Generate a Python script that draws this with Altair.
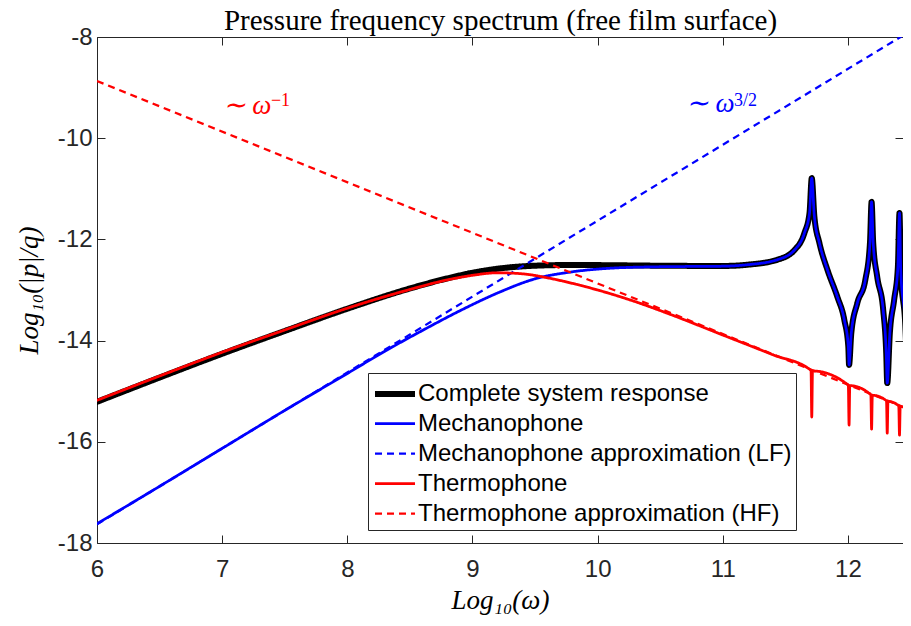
import altair as alt
import pandas as pd

# ---------------- data ----------------
SERIES = [
    "Complete system response",
    "Mechanophone",
    "Mechanophone approximation (LF)",
    "Thermophone",
    "Thermophone approximation (HF)",
]
COLORS = ["#000000", "#0000ff", "#0000ff", "#ff0000", "#ff0000"]
DASHES = [[1, 0], [1, 0], [7, 5], [1, 0], [7, 5]]
WIDTHS = [6, 2.75, 2.25, 2.75, 2.25]
TITLE = "Pressure frequency spectrum (free film surface)"

# Mechanophone (blue solid)
blue_x = [6.0, 6.5, 7.0, 7.5, 8.0, 8.3, 8.6, 8.9, 9.2, 9.5, 9.8, 10.1, 10.5, 11.0,
          11.2, 11.438, 11.573, 11.653, 11.693, 11.711, 11.732, 11.772, 11.836, 11.916,
          11.971, 12.003, 12.009, 12.027, 12.075, 12.139, 12.176, 12.189, 12.202, 12.234,
          12.282, 12.306, 12.314, 12.335, 12.369, 12.399, 12.412, 12.422, 12.459, 12.48]
blue_y = [-17.62, -16.88, -16.13, -15.38, -14.65, -14.21, -13.80, -13.41, -13.06, -12.78,
          -12.64, -12.57, -12.54, -12.53,
          -12.50, -12.40, -12.21, -11.87, -11.48, -10.79, -11.55, -12.07, -12.60, -13.14,
          -13.59, -14.12, -14.48, -13.85, -13.26, -12.80, -12.07, -11.26, -12.07, -12.74,
          -13.40, -14.25, -14.84, -13.85, -13.20, -12.55, -11.48, -12.60, -13.73, -15.11]

# Complete system response (black): low-frequency part, then identical to blue
black_lo_x = [6.0, 6.5, 7.0, 7.5, 8.0, 8.5, 8.8, 9.0, 9.2, 9.5, 9.8, 10.1, 10.5, 11.0]
black_lo_y = [-15.21, -14.73, -14.26, -13.81, -13.37, -12.97, -12.77, -12.66, -12.58,
              -12.52, -12.505, -12.51, -12.52, -12.525]
black_x = black_lo_x + blue_x[14:]
black_y = black_lo_y + blue_y[14:]

# Thermophone (red solid), with the narrow dips at the resonances
red_x = [6.0, 6.5, 7.0, 7.5, 8.0, 8.5, 8.8, 9.0, 9.2, 9.4, 9.6, 9.8, 10.0, 10.3, 10.6,
         11.0, 11.4, 11.705, 11.711, 11.717, 12.003, 12.009, 12.015, 12.183, 12.189,
         12.195, 12.308, 12.314, 12.320, 12.406, 12.412, 12.418, 12.48]
red_y = [-15.18, -14.70, -14.23, -13.79, -13.36, -12.99, -12.80, -12.71, -12.66, -12.68,
         -12.76, -12.87, -13.00, -13.23, -13.50, -13.89, -14.28, -14.59, -15.51, -14.60,
         -14.88, -15.67, -14.89, -15.07, -15.75, -15.08, -15.19, -15.83, -15.20, -15.29,
         -15.87, -15.30, -15.37]

# Asymptotic approximations (straight lines in log-log)
mech_x = [6.0, 12.48]
mech_y = [-17.63, -7.91]
therm_x = [6.0, 12.48]
therm_y = [-8.87, -15.35]

# Annotations
ann_text = ["\u223c \u03c9", "\u223c \u03c9"]
ann_x = [7.003, 10.705]
ann_y = [-9.52, -9.48]
ann_color = ["#ff0000", "#0000ff"]
sup_text = ["\u22121", "3/2"]
sup_x = [7.39, 11.09]
sup_y = [-9.36, -9.36]

X_TICKS = [6, 7, 8, 9, 10, 11, 12]
Y_TICKS = [-18, -16, -14, -12, -10, -8]

# ---------------- build table ----------------
rows = []
for name, xs_, ys_ in [
    (SERIES[0], black_x, black_y),
    (SERIES[1], blue_x, blue_y),
    (SERIES[2], mech_x, mech_y),
    (SERIES[3], red_x, red_y),
    (SERIES[4], therm_x, therm_y),
]:
    for i, (a, b) in enumerate(zip(xs_, ys_)):
        rows.append({"series": name, "x": a, "y": b, "i": i})
df = pd.DataFrame(rows)

ann_df = pd.DataFrame({"t": ann_text, "x": ann_x, "y": ann_y, "c": ann_color})
sup_df = pd.DataFrame({"t": sup_text, "x": sup_x, "y": sup_y, "c": ann_color})

xscale = alt.Scale(domain=[6, 12.44], nice=False, zero=False)
yscale = alt.Scale(domain=[-18, -8], nice=False, zero=False)

AX = dict(domainColor="#262626", tickColor="#262626", domainWidth=1, tickWidth=1,
          grid=False, tickSize={"expr": "-8"}, minExtent=0)

x_bottom = alt.Axis(orient="bottom", values=X_TICKS, labelPadding=22, labelFlush=False,
                    labelFont="Liberation Sans", labelFontSize=24, labelColor="#262626",
                    title="Log\u2081\u2080(\u03c9)", titleFont="Liberation Serif",
                    titleFontStyle="italic", titleFontWeight="normal", titleFontSize=27,
                    titleColor="black", titlePadding=6, **AX)
y_left = alt.Axis(orient="left", values=Y_TICKS, labelPadding=13, labelFlush=False,
                  labelExpr="'' + datum.value",
                  labelFont="Liberation Sans", labelFontSize=24, labelColor="#262626",
                  title="Log\u2081\u2080(|p|/q)", titleFont="Liberation Serif",
                  titleFontStyle="italic", titleFontWeight="normal", titleFontSize=27,
                  titleColor="black", titlePadding=14, **AX)
# the top axis carries the chart title
x_top = alt.Axis(orient="top", values=X_TICKS, labels=False, title=TITLE,
                 titleFont="Liberation Serif", titleFontSize=29, titleFontWeight="normal",
                 titleColor="black", titleBaseline="alphabetic", titlePadding=7, **AX)
y_right = alt.Axis(orient="right", values=Y_TICKS, labels=False, title=None, **AX)

legend = alt.Legend(
    title=None, orient="none", legendX=271, legendY=336,
    symbolType="M-1,0H1.857", symbolSize=784, labelOffset=12,
    labelFont="Liberation Sans", labelFontSize=24, labelColor="black", labelLimit=0,
    strokeColor="#262626", fillColor="white", padding=4, rowPadding=2,
)

base = alt.Chart(df)
layers = []
for idx, name in enumerate(SERIES):
    if idx == 0:
        xa, ya = x_bottom, y_left
    elif idx == 1:
        xa, ya = x_top, y_right
    else:
        xa, ya = None, None
    dashed = idx in (2, 4)
    layer = base.transform_filter(alt.datum.series == name).mark_line(
        clip=True, strokeJoin="round", strokeCap="butt" if dashed else "round",
        interpolate="linear" if dashed else "monotone",
    ).encode(
        x=alt.X("x:Q", scale=xscale, axis=xa),
        y=alt.Y("y:Q", scale=yscale, axis=ya),
        color=alt.Color("series:N", scale=alt.Scale(domain=SERIES, range=COLORS), legend=legend),
        strokeDash=alt.StrokeDash("series:N", scale=alt.Scale(domain=SERIES, range=DASHES), legend=legend),
        strokeWidth=alt.StrokeWidth("series:N", scale=alt.Scale(type="ordinal", domain=SERIES, range=WIDTHS), legend=legend),
        order=alt.Order("i:Q"),
    )
    layers.append(layer)

text_main = alt.Chart(ann_df).mark_text(
    align="left", baseline="alphabetic", font="Liberation Serif", fontStyle="italic", fontSize=27
).encode(
    x=alt.X("x:Q", scale=xscale, axis=None),
    y=alt.Y("y:Q", scale=yscale, axis=None),
    text="t:N",
    color=alt.Color("c:N", scale=None),
)
text_sup = alt.Chart(sup_df).mark_text(
    align="left", baseline="alphabetic", font="Liberation Serif", fontSize=18
).encode(
    x=alt.X("x:Q", scale=xscale, axis=None),
    y=alt.Y("y:Q", scale=yscale, axis=None),
    text="t:N",
    color=alt.Color("c:N", scale=None),
)

chart = alt.layer(*layers, text_main, text_sup).resolve_axis(
    x="independent", y="independent"
).properties(
    width=806, height=506,
    autosize=alt.AutoSizeParams(type="none"),
    padding={"left": 89, "top": 29, "right": 0, "bottom": 72},
    background="white",
).configure_view(stroke=None)

chart.save("out.html", embed_options={"renderer": "svg", "actions": False})
